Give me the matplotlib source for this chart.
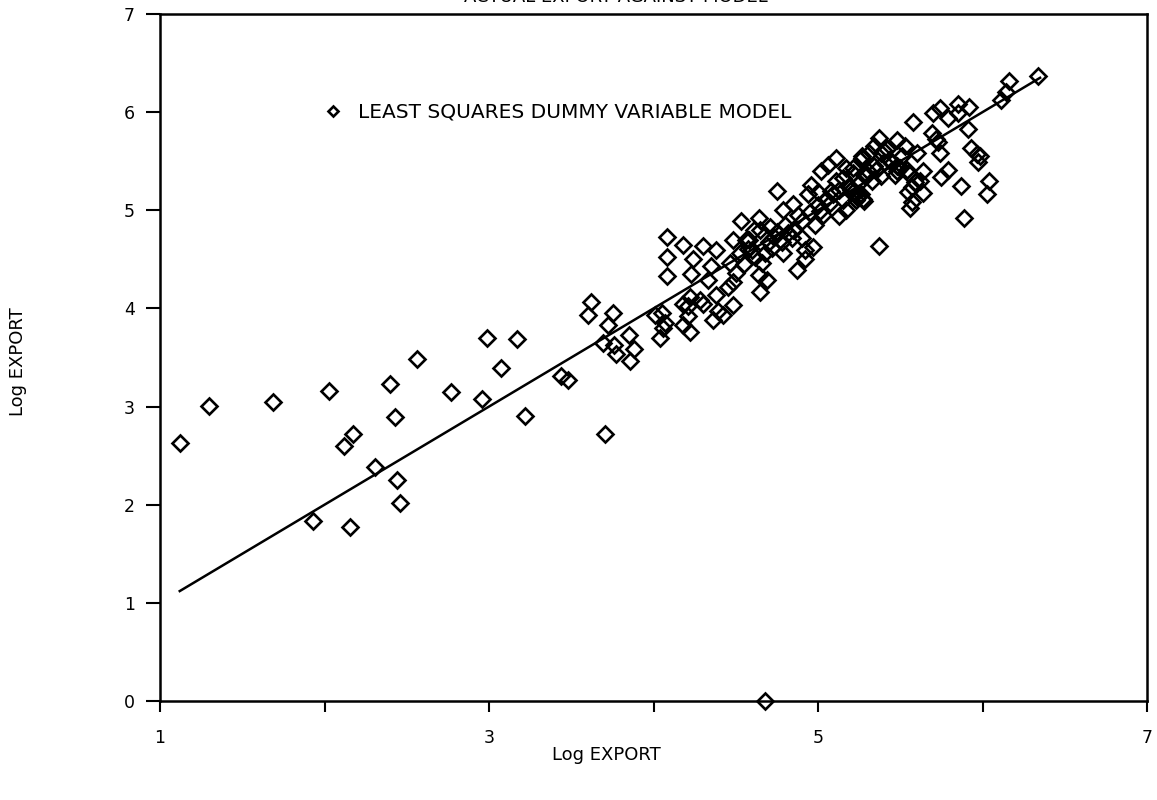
import numpy as np
import matplotlib
matplotlib.use("Agg")
import matplotlib.pyplot as plt

x_obs = [1.12, 1.30, 1.685, 2.03, 2.40, 2.56, 2.77, 3.07, 2.96, 3.22,
         2.175, 2.12, 2.43, 2.31, 2.44, 2.46, 1.93, 2.155, 2.99, 3.17,
         3.44, 3.48, 3.705, 3.60, 3.62, 3.725, 3.755, 3.69, 3.76, 3.77,
         3.85, 3.88, 3.86, 4.01, 4.05, 4.07, 4.055, 4.04, 4.08, 4.08,
         4.085, 4.18, 4.24, 4.23, 4.30, 4.38, 4.18, 4.22, 4.21, 4.18,
         4.22, 4.21, 4.28, 4.30, 4.33, 4.35, 4.38, 4.39, 4.36, 4.42,
         4.45, 4.485, 4.485, 4.50, 4.465, 4.485, 4.53, 4.565, 4.575, 4.525,
         4.61, 4.64, 4.65, 4.64, 4.66, 4.69, 4.75, 4.68, 4.73, 4.71,
         4.79, 4.79, 4.77, 4.82, 4.85, 4.87, 4.90, 4.92, 4.92, 4.97,
         4.94, 4.96, 5.00, 5.02, 5.06, 5.11, 5.01, 5.07, 5.09, 5.13,
         5.13, 5.17, 5.19, 5.21, 5.275, 5.26, 5.27, 5.30, 5.34, 5.37,
         5.38, 5.43, 5.48, 6.34, 6.16, 6.14, 6.11, 5.92, 5.85, 5.85,
         5.79, 5.74, 5.70, 5.575, 5.91, 5.69, 5.72, 5.74, 5.73, 5.93,
         5.965, 5.97, 6.04, 6.03, 5.87, 5.89, 5.79, 5.745, 5.64, 5.64,
         5.59, 5.55, 5.57, 5.56, 5.48, 5.53, 5.37, 5.34, 5.60, 5.51,
         5.48, 5.54, 5.27, 5.31, 5.40, 5.44, 5.21, 5.28, 5.24, 5.20,
         5.30, 5.35, 5.985, 5.55, 5.57, 5.62, 5.11, 5.15, 5.17, 5.19,
         5.23, 5.42, 5.45, 5.50, 5.40, 5.47, 4.68,
         4.60, 4.70, 4.75, 4.80, 4.85, 4.88, 4.90, 4.95, 5.00, 5.05,
         4.55, 4.62, 4.72, 4.78, 4.84, 4.65, 4.58, 4.98, 5.03, 5.08,
         5.15, 5.22, 5.25, 5.33, 5.28, 5.38]
y_obs = [2.63, 3.01, 3.05, 3.16, 3.23, 3.48, 3.15, 3.39, 3.08, 2.90,
         2.72, 2.60, 2.89, 2.38, 2.25, 2.02, 1.83, 1.77, 3.70, 3.69,
         3.31, 3.27, 2.72, 3.93, 4.07, 3.83, 3.95, 3.65, 3.63, 3.54,
         3.73, 3.59, 3.46, 3.93, 3.95, 3.85, 3.80, 3.70, 4.73, 4.52,
         4.33, 4.65, 4.50, 4.35, 4.64, 4.60, 4.05, 4.12, 4.02, 3.83,
         3.76, 3.92, 4.09, 4.05, 4.29, 4.43, 4.14, 3.97, 3.88, 3.93,
         4.22, 4.04, 4.27, 4.36, 4.46, 4.70, 4.89, 4.70, 4.61, 4.56,
         4.80, 4.92, 4.17, 4.34, 4.46, 4.29, 5.20, 4.56, 4.73, 4.83,
         5.00, 4.56, 4.70, 4.77, 5.06, 4.39, 4.89, 4.60, 4.50, 4.63,
         5.17, 5.26, 5.19, 5.40, 5.46, 5.53, 4.99, 5.07, 5.17, 5.21,
         4.94, 5.00, 5.24, 5.38, 5.11, 5.17, 5.55, 5.41, 5.45, 4.64,
         5.58, 5.51, 5.40, 6.37, 6.32, 6.21, 6.12, 6.05, 6.08, 5.99,
         5.94, 6.04, 5.99, 5.90, 5.83, 5.79, 5.73, 5.58, 5.70, 5.63,
         5.57, 5.49, 5.30, 5.17, 5.25, 4.92, 5.41, 5.34, 5.40, 5.18,
         5.29, 5.19, 5.08, 5.02, 5.72, 5.65, 5.74, 5.65, 5.58, 5.55,
         5.45, 5.41, 5.53, 5.58, 5.60, 5.51, 5.43, 5.09, 5.14, 5.21,
         5.36, 5.41, 5.55, 5.38, 5.24, 5.30, 5.30, 5.33, 5.43, 5.25,
         5.10, 5.62, 5.48, 5.43, 5.49, 5.36, 0.00,
         4.60, 4.68, 4.78, 4.85, 4.80, 4.95, 4.72, 4.98, 5.05, 5.12,
         4.45, 4.52, 4.62, 4.68, 4.72, 4.80, 4.70, 4.85, 4.95, 5.20,
         5.10, 5.20, 5.28, 5.30, 5.36, 5.35]

# fitted line of the least squares dummy variable model
x_fit = [1.12, 6.35]
y_fit = [1.12, 6.35]

x_ticks = [1, 2, 3, 4, 5, 6, 7]
x_labels = ["1", "", "3", "", "5", "", "7"]
y_ticks = [0, 1, 2, 3, 4, 5, 6, 7]

W, H = 1157, 800
fig = plt.figure(figsize=(W / 100, H / 100), dpi=100)
ax = fig.add_axes([160 / W, 1 - 701 / H, (1147 - 160) / W, (701 - 14) / H])

ax.plot(x_fit, y_fit, color="black", lw=1.8, zorder=2)
ax.plot(x_obs, y_obs, linestyle="none", marker="D", ms=8.5, mfc="none",
        mec="black", mew=1.9, clip_on=False, zorder=3,
        label="LEAST SQUARES DUMMY VARIABLE MODEL")

ax.set_xlim(1, 7)
ax.set_ylim(0, 7)
ax.set_xticks(x_ticks)
ax.set_xticklabels(x_labels)
ax.set_yticks(y_ticks)
ax.tick_params(axis="x", direction="out", length=8, width=1.5, pad=12,
               labelsize=12.5)
ax.tick_params(axis="y", direction="out", length=10, width=1.5, pad=8,
               labelsize=12.5)
for s in ax.spines.values():
    s.set_linewidth(1.8)

leg = ax.legend(loc="center left", bbox_to_anchor=(0.158, 0.857),
                frameon=False, fontsize=14.5, handlelength=0.7,
                handletextpad=0.9, borderpad=0, markerscale=0.65)

fig.text(606 / W, 1 - 755 / H, "Log EXPORT", ha="center", va="center",
         fontsize=13)
fig.text(18 / W, 1 - 362 / H, "Log EXPORT", ha="center", va="center",
         rotation=90, fontsize=13)
# title cut off at the top of the page, as in the source
fig.text(616 / W, 1 - 2 / H, "ACTUAL EXPORT AGAINST MODEL", ha="center",
         va="baseline", fontsize=13)

fig.savefig("out.png", dpi=100)
